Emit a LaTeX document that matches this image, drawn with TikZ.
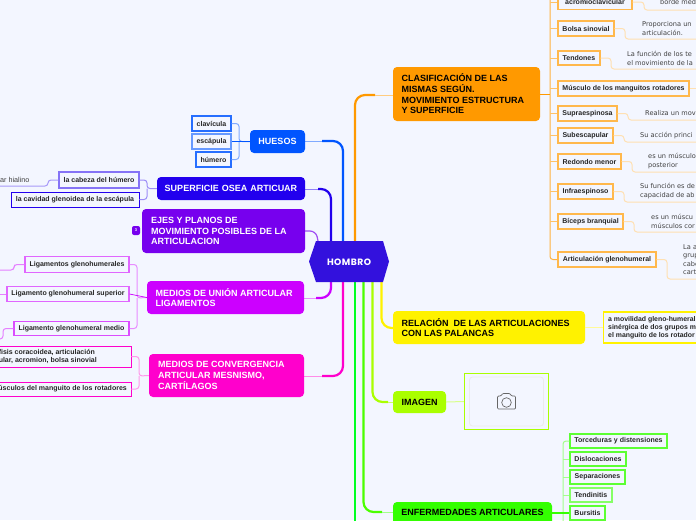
\documentclass[tikz,border=0pt]{standalone}
\usepackage{fontspec}
\setmainfont{Liberation Sans}
\newfontfamily\plainfam{DejaVu Sans}
\newfontfamily\hexfam[LetterSpace=5]{Poppins}
\begin{document}
\begin{tikzpicture}[x=1pt,y=-1pt,
  mainnode/.style={rounded corners=4pt,text width=#1,align=left,inner sep=0pt,font=\bfseries\fontsize{9}{10.7}\selectfont},
  subnode/.style={draw=#1,line width=1.1pt,fill=bgc,inner sep=0pt,font=\bfseries\fontsize{7}{8.2}\selectfont,text=black!85,align=left},
  plain/.style={inner sep=0pt,font=\plainfam\fontsize{6.6}{9}\selectfont,text=black!75,align=left,anchor=west},
  thick line/.style={line width=2.2pt,rounded corners=10pt},
  thin line/.style={line width=1pt,rounded corners=3pt}]
\definecolor{bgc}{HTML}{F3F6FF}
\definecolor{cblue}{HTML}{0055FF}
\definecolor{cindigo}{HTML}{2200EE}
\definecolor{cviolet}{HTML}{7700EE}
\definecolor{cmagenta}{HTML}{CC00FF}
\definecolor{cpink}{HTML}{FF00CC}
\definecolor{ccenter}{HTML}{3311DD}
\definecolor{corange}{HTML}{FF9900}
\definecolor{cyellow}{HTML}{FFF200}
\definecolor{clime}{HTML}{AAFF00}
\definecolor{cgreen}{HTML}{33FF00}
\definecolor{cbright}{HTML}{00FF22}
\path[use as bounding box] (0,0) rectangle (696,520);
\clip (0,0) rectangle (696,520);
\fill[bgc] (0,0) rectangle (696,520);

\coordinate (cb) at (343,241);
\coordinate (ci) at (331,241);
\coordinate (cv) at (318,241);
\coordinate (cm) at (331,282);
\coordinate (cp) at (343,282);
\coordinate (co) at (355,241);
\coordinate (cbr) at (355,282);
\coordinate (cg) at (363.5,282);
\coordinate (cl) at (372.5,282);
\coordinate (cy) at (381.5,282);
\coordinate (brend) at (355,525);

\draw[thick line,cblue] (cb) -- (343,141) -- (322,141);
\draw[line width=1pt,cblue!50] (322,141) -- (305,141);
\draw[thick line,cindigo] (ci) -- (331,189) -- (318,189);
\draw[line width=1pt,cindigo!50] (318,189) -- (305,189);
\draw[line width=1.2pt,cviolet!70,rounded corners=6pt] (cv) -- (316,231) -- (305,231);
\draw[thick line,cmagenta] (cm) -- (331,298) -- (316,298);
\draw[line width=1pt,cmagenta!45] (316,298) -- (304,298);
\draw[thick line,cpink] (cp) -- (343,376) -- (322,376);
\draw[line width=1pt,cpink!45] (322,376) -- (304,376);
\draw[thick line,corange] (co) -- (355,95) -- (375,95);
\draw[line width=1pt,corange!50] (375,95) -- (393,95);
\draw[line width=2.4pt,cbright] (cbr) -- (brend);
\draw[thick line,cgreen!80!clime] (cg) -- (363.5,512) -- (382,512);
\draw[line width=1pt,cgreen!45] (382,512) -- (393,512);
\draw[thick line,clime] (cl) -- (372.5,402) -- (388,402);
\draw[line width=1pt,clime!60] (388,402) -- (393,402);
\draw[thick line,cyellow] (cy) -- (381.5,328) -- (393,328);

\fill[ccenter] (316,241) -- (383,241) -- (389,261.5) -- (383,282) -- (316,282) -- (309,261.5) -- cycle;
\node[inner sep=0pt,text=white,font=\hexfam\bfseries\fontsize{9.2}{10}\selectfont] (center) at (349,262) {HOMBRO};

\node[mainnode=55pt,fill=cblue,text=white,minimum height=23pt,align=center] (huesos) at (277.5,141.5) {HUESOS};
\node[mainnode=148pt,fill=cindigo,text=white,minimum height=23pt,align=center] (sup) at (231,188.5) {SUPERFICIE OSEA ARTICUAR};
\node[fill=cviolet,rounded corners=4pt,minimum width=163pt,minimum height=44pt,inner sep=0pt] (ejes) at (223.5,231) {};
\node[anchor=west,inner sep=0pt,text=white,align=left,font=\bfseries\fontsize{9}{10.7}\selectfont] (ejest) at (151,231) {EJES Y PLANOS DE\\MOVIMIENTO POSIBLES DE LA\\ARTICULACION};
\node[fill=cmagenta,rounded corners=4pt,minimum width=157pt,minimum height=33pt,inner sep=0pt] (union) at (225.5,297.5) {};
\node[anchor=west,inner sep=0pt,text=white,align=left,font=\bfseries\fontsize{9}{10.7}\selectfont] (uniont) at (155.5,297.5) {MEDIOS DE UNIÓN ARTICULAR\\LIGAMENTOS};
\node[fill=cpink,rounded corners=4pt,minimum width=155pt,minimum height=43pt,inner sep=0pt] (conv) at (226.5,375.5) {};
\node[anchor=west,inner sep=0pt,text=white,align=left,font=\bfseries\fontsize{9}{10.7}\selectfont] (convt) at (158,375.5) {MEDIOS DE CONVERGENCIA\\ARTICULAR MESNISMO,\\CARTÍLAGOS};
\node[fill=cviolet,rounded corners=2pt,minimum width=8pt,minimum height=9pt,inner sep=0pt,text=white,font=\bfseries\fontsize{4}{4}\selectfont] (badge) at (136,230.5) {3};

\node[fill=corange,rounded corners=4pt,minimum width=147pt,minimum height=54pt,inner sep=0pt] (clas) at (466.5,94) {};
\node[anchor=west,inner sep=0pt,align=left,text=black,font=\bfseries\fontsize{9}{10.7}\selectfont] (clast) at (401.5,94) {CLASIFICACIÓN DE LAS\\MISMAS SEGÚN.\\MOVIMIENTO ESTRUCTURA\\Y SUPERFICIE};
\node[fill=cyellow,rounded corners=4pt,minimum width=192pt,minimum height=33pt,inner sep=0pt] (rel) at (489,327.5) {};
\node[anchor=west,inner sep=0pt,align=left,font=\bfseries\fontsize{9}{10.7}\selectfont] (relt) at (401.5,327.5) {RELACIÓN\ \ DE LAS ARTICULACIONES\\CON LAS PALANCAS};
\node[fill=clime,rounded corners=4pt,minimum width=53pt,minimum height=22pt,inner sep=0pt,font=\bfseries\fontsize{9}{11}\selectfont] (imagen) at (419.5,402) {IMAGEN};
\node[fill=cgreen,rounded corners=4pt,minimum width=159pt,minimum height=26pt,inner sep=0pt] (enf) at (472.5,515) {};
\node[inner sep=0pt,font=\bfseries\fontsize{9}{11}\selectfont] (enft) at (472.5,512.5) {ENFERMEDADES ARTICULARES};

\node[subnode=cblue!85,minimum width=39pt,minimum height=15pt] (cla) at (211.5,123.5) {clavícula};
\node[subnode=cblue!60,minimum width=39pt,minimum height=15pt] (esc) at (211.5,141.5) {escápula};
\node[subnode=cblue!85,minimum width=35pt,minimum height=15pt] (hum) at (213.5,159.5) {húmero};
\draw[cblue!50,thin line] (huesos.west) -- (239,141.5) -- (239,123.5) -- (cla.east);
\draw[cblue!50,thin line] (239,141.5) -- (239,159.5) -- (hum.east);
\draw[cblue,line width=.8pt] (huesos.west) -- (esc.east);

\node[subnode=cindigo!55,minimum width=80pt,minimum height=16pt] (cab) at (99,180) {la cabeza del húmero};
\node[subnode=cindigo,line width=.9pt,minimum width=128pt,minimum height=15pt] (cav) at (75,199.5) {la cavidad glenoidea de la escápula};
\draw[cindigo!45,thin line] (sup.west) -- (147,188.5) -- (147,180) -- (cab.east);
\draw[cindigo!45,thin line] (147,188.5) -- (147,199.5) -- (cav.east);
\coordinate (cabend) at (-2,186);
\draw[cindigo!40,thin line] (cab.west) -- (48,180) -- (48,186) -- (cabend);
\node[plain,font=\fontsize{7.2}{9}\selectfont] (hial) at (0,179.5) {ar hialino};

\node[subnode=cmagenta!60,minimum width=104pt,minimum height=16pt] (lg) at (77,264.5) {Ligamentos glenohumerales};
\node[subnode=cmagenta!60,minimum width=122pt,minimum height=15pt] (ls) at (68,294) {Ligamento glenohumeral superior};
\node[subnode=cmagenta!70,minimum width=115pt,minimum height=14pt] (lm) at (71.5,328.5) {Ligamento glenohumeral medio};
\draw[cmagenta!45,thin line] (union.west) -- (137,298) -- (137,264.5) -- (lg.east);
\draw[cmagenta!45,thin line] (137,298) -- (137,328.5) -- (lm.east);
\draw[cmagenta,line width=.7pt] (union.west) -- (ls.east);
\coordinate (lgend) at (-2,270);
\coordinate (lsend) at (-2,294);
\coordinate (lmend) at (-2,339);
\draw[cmagenta!50,thin line] (lg.west) -- (14,264.5) -- (14,270) -- (lgend);
\draw[cmagenta!50,thin line] (ls.west) -- (lsend);
\draw[cmagenta!50,thin line] (lm.west) -- (3,328.5) -- (3,339) -- (lmend);

\node[subnode=cpink,line width=.9pt,minimum width=140pt,minimum height=21pt] (fis) at (61,356.5) {};
\node[anchor=east,inner sep=0pt,align=left,font=\bfseries\fontsize{7}{8.2}\selectfont,text=black!85] (fist) at (97,356.5) {fisis coracoidea, articulación\\ular, acromion, bolsa sinovial};
\node[subnode=cpink,line width=.9pt,minimum width=140pt,minimum height=14pt] (mus) at (61,389) {};
\node[anchor=east,inner sep=0pt,font=\bfseries\fontsize{7}{8.2}\selectfont,text=black!85] (must) at (127,389) {úsculos del manguito de los rotadores};
\draw[cpink!40,thin line] (conv.west) -- (139,376) -- (139,356.5) -- (fis.east);
\draw[cpink!40,thin line] (139,376) -- (139,389) -- (mus.east);

\coordinate (orgtop) at (550,-3);
\draw[corange!75,line width=1pt,rounded corners=3pt] (orgtop) -- (550,259.5) -- (558,259.5);
\draw[corange,line width=1pt] (clas.east) -- (550,94);

\node[subnode=corange!70,minimum width=74pt,minimum height=15pt] (acr) at (595,2) {acromioclavicular};
\node[subnode=corange!70,minimum width=56pt,minimum height=15pt] (bol) at (586,28.5) {Bolsa sinovial};
\node[subnode=corange!70,minimum width=42pt,minimum height=14pt] (ten) at (579,58) {Tendones};
\node[subnode=corange!70,minimum width=131pt,minimum height=15pt] (mga) at (623.5,88.5) {Músculo de los manguitos rotadores};
\node[subnode=corange!70,minimum width=59pt,minimum height=15pt] (sup2) at (587.5,113.5) {Supraespinosa};
\node[subnode=corange!70,minimum width=55pt,minimum height=15pt] (sub) at (585.5,135.5) {Subescapular};
\node[subnode=corange!70,minimum width=63pt,minimum height=15pt] (red) at (589.5,161.5) {Redondo menor};
\node[subnode=corange!70,minimum width=55pt,minimum height=15pt] (inf) at (585.5,191.5) {Infraespinoso};
\node[subnode=corange!70,minimum width=65pt,minimum height=15pt] (bic) at (590.5,221.5) {Bíceps branquial};
\node[subnode=corange!70,minimum width=98pt,minimum height=15pt] (art) at (607,259.5) {Articulación glenohumeral};
\foreach \n/\yy in {acr/2,bol/28.5,ten/58,mga/88.5,sup2/113.5,sub/135.5,red/161.5,inf/191.5,bic/221.5}
  \draw[corange!60,line width=.8pt] (\n.west) -- (550,\yy);

\foreach \n/\c in {acr/10,bol/39,ten/69,mga/88.5,sup2/120,sub/142,red/172,inf/202,bic/232,art/279}
  \coordinate (end\n) at (700,\c);
\draw[corange!30,thin line] (acr.east) -- (644,2) -- (644,10) -- (endacr);
\draw[corange!30,thin line] (bol.east) -- (625,28.5) -- (625,39) -- (endbol);
\draw[corange!30,thin line] (ten.east) -- (611,58) -- (611,69) -- (endten);
\draw[corange!30,thin line] (mga.east) -- (endmga);
\draw[corange!30,thin line] (sup2.east) -- (628,113.5) -- (628,120) -- (endsup2);
\draw[corange!30,thin line] (sub.east) -- (624,135.5) -- (624,142) -- (endsub);
\draw[corange!30,thin line] (red.east) -- (632,161.5) -- (632,172) -- (endred);
\draw[corange!30,thin line] (inf.east) -- (624,191.5) -- (624,202) -- (endinf);
\draw[corange!30,thin line] (bic.east) -- (634,221.5) -- (634,232) -- (endbic);
\draw[corange!30,thin line] (art.east) -- (667,259.5) -- (667,279) -- (endart);

\node[plain] (t1) at (660,2.5) {borde med};
\node[plain] (t2) at (642,28.5) {Proporciona un\\articulación.};
\node[plain] (t3) at (627,58) {La función de los te\\el movimiento de la};
\node[plain] (t5) at (645,113.5) {Realiza un mov};
\node[plain] (t6) at (640,135.5) {Su acción princi};
\node[plain] (t7) at (648,161.5) {es un músculo\\posterior};
\node[plain] (t8) at (640,191.5) {Su función es de\\capacidad de ab};
\node[plain] (t9) at (651,221.5) {es un múscu\\músculos cor};
\node[plain,font=\plainfam\fontsize{6.6}{8.4}\selectfont] (t10) at (683,259.5) {La a\\grup\\cabe\\cart};

\node[subnode=cyellow,line width=1.1pt,minimum width=100pt,minimum height=31pt,anchor=west] (mov) at (603,327.5) {};
\node[anchor=west,inner sep=0pt,align=left,font=\bfseries\fontsize{6.9}{7.8}\selectfont,text=black!85] (movt) at (608,327.5) {a movilidad gleno-humeral\\sinérgica de dos grupos m\\el manguito de los rotador};
\draw[cyellow!40,line width=1pt] (rel.east) -- (mov.west);

\node[draw=clime,line width=1.2pt,fill=bgc,minimum width=84pt,minimum height=56pt,inner sep=0pt] (frame) at (506.5,401.5) {};
\node[draw=black!8,line width=.8pt,fill=bgc,rounded corners=3pt,minimum width=74pt,minimum height=49pt,inner sep=0pt] (inner) at (506.5,401.5) {};
\draw[clime!45,line width=1pt] (imagen.east) -- (frame.west);
\draw[black!60,line width=.7pt,rounded corners=1pt] (497.5,396) -- (501,396) -- (502.5,393.5) -- (510,393.5) -- (511.5,396) -- (515.5,396) -- (515.5,409) -- (497.5,409) -- cycle;
\draw[black!60,line width=.7pt] (506.5,402.5) circle (4.8pt);

\node[subnode=cgreen!80,minimum width=97pt,minimum height=14pt] (g1) at (618.5,441) {Torceduras y distensiones};
\node[subnode=cgreen!80,minimum width=56pt,minimum height=14pt] (g2) at (598,459) {Dislocaciones};
\node[subnode=cgreen!80,minimum width=55pt,minimum height=14pt] (g3) at (597.5,477) {Separaciones};
\node[subnode=cgreen!60,minimum width=42pt,minimum height=14pt] (g4) at (591,495) {Tendinitis};
\node[subnode=cgreen!80,minimum width=35pt,minimum height=14pt] (g5) at (587.5,513) {Bursitis};
\coordinate (gend) at (563,525);
\draw[cgreen!45,thin line] (g1.west) -- (563,441) -- (gend);
\foreach \n in {g2,g3,g4,g5} \draw[cgreen!45,line width=.8pt] (\n.west) -- (\n.west -| gend);
\draw[cgreen,line width=1.4pt] (552,513) -- (g5.west);
\end{tikzpicture}
\end{document}
